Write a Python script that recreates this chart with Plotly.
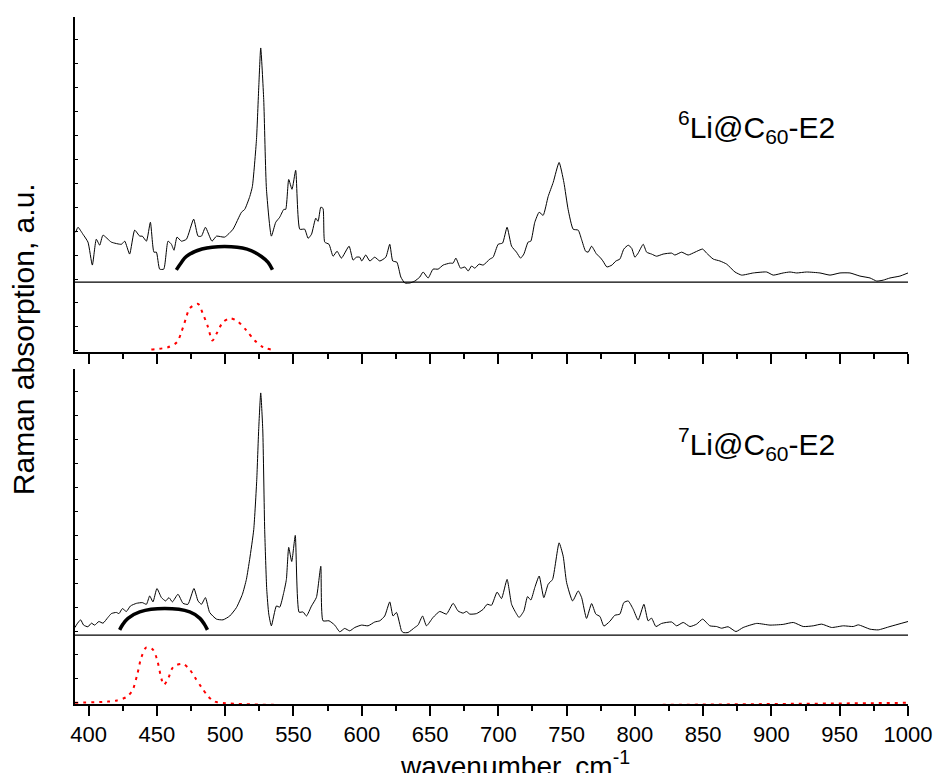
import plotly.graph_objects as go

# ---------------- data (wavenumber cm^-1, intensity a.u.) ----------------
# 6Li@C60-E2 spectrum, intensity above its baseline
wn_top = [390.5, 392.2, 395.8, 399.5, 402.7, 405.6, 408.1, 410.5, 416.6, 424.0, 426.4, 430.0,
          433.7, 437.4, 439.3, 442.3, 445.2, 447.8, 449.6, 452.0, 455.0, 458.1, 460.6, 462.5,
          464.7, 467.9, 471.6, 476.9, 480.1, 482.6, 485.5, 490.3, 493.6, 499.6, 505.7, 511.9,
          514.3, 518.0, 519.9, 522.9, 524.6, 526.0, 528.2, 530.2, 533.8, 537.0, 539.9, 542.9,
          544.3, 546.5, 548.9, 551.6, 554.6, 558.2, 560.7, 563.2, 566.3, 568.0, 570.0, 571.6,
          572.9, 576.0, 579.0, 581.9, 585.1, 590.7, 593.6, 596.1, 598.5, 600.0, 602.9, 605.9,
          609.5, 613.2, 617.6, 620.5, 622.7, 625.7, 628.6, 631.5, 635.2, 638.8, 642.5, 644.9,
          648.6, 652.2, 655.9, 659.6, 664.5, 666.9, 668.9, 672.3, 675.5, 677.9, 680.4, 682.8,
          685.9, 688.9, 693.8, 696.2, 699.9, 703.1, 706.4, 709.7, 713.3, 716.3, 718.7, 721.8,
          723.8, 726.7, 729.9, 732.8, 736.5, 740.2, 744.5, 748.0, 751.1, 754.8, 758.5, 760.9,
          763.9, 765.8, 768.3, 771.9, 774.4, 776.6, 779.5, 783.2, 786.1, 789.0, 791.9, 795.1,
          797.6, 800.0, 802.4, 806.1, 808.6, 812.2, 815.9, 820.7, 826.9, 829.3, 834.2, 839.0,
          844.0, 849.6, 852.5, 857.4, 862.3, 867.2, 873.3, 878.2, 886.7, 896.5, 901.3, 908.6,
          913.6, 918.5, 925.8, 935.5, 942.9, 950.2, 957.5, 964.8, 972.2, 977.1, 981.9, 986.8,
          994.1, 1000.0]
int_top = [2.08, 2.29, 2.00, 1.67, 0.71, 1.79, 1.54, 1.96, 1.67, 1.58, 1.71, 1.17,
           2.17, 1.92, 1.92, 1.71, 2.50, 1.25, 1.25, 0.54, 0.54, 1.71, 1.58, 1.33,
           1.88, 1.71, 1.79, 2.63, 1.92, 1.92, 2.29, 1.71, 1.92, 1.88, 2.21, 2.92,
           3.04, 3.58, 4.00, 5.96, 8.20, 9.79, 7.63, 3.88, 1.92, 2.50, 2.71, 3.04,
           3.04, 4.29, 3.88, 4.67, 2.21, 2.21, 1.83, 2.00, 2.67, 2.54, 3.13, 3.08,
           1.67, 1.58, 1.08, 1.29, 1.00, 1.50, 0.92, 1.04, 1.04, 0.88, 1.13, 0.88,
           1.04, 0.88, 1.04, 1.58, 0.88, 0.83, 0.21, -0.04, -0.04, 0.04, 0.21, 0.42,
           0.17, 0.54, 0.54, 0.71, 0.79, 0.79, 1.00, 0.58, 0.63, 0.46, 0.67, 0.58,
           0.75, 0.71, 0.96, 1.04, 1.58, 1.63, 2.29, 1.50, 1.25, 1.00, 1.17, 1.67,
           1.71, 2.50, 2.92, 2.79, 3.58, 4.17, 5.00, 4.17, 3.04, 2.21, 2.17, 1.79,
           1.29, 1.25, 1.50, 1.17, 1.04, 0.88, 0.63, 0.71, 0.88, 0.96, 1.38, 1.54,
           1.42, 1.04, 1.21, 1.58, 1.25, 1.17, 1.08, 1.17, 1.21, 1.13, 1.25, 1.13,
           1.25, 1.38, 1.21, 0.96, 0.88, 0.75, 0.42, 0.29, 0.38, 0.42, 0.29, 0.38,
           0.42, 0.38, 0.42, 0.38, 0.29, 0.38, 0.38, 0.25, 0.17, 0.04, 0.08, 0.17,
           0.25, 0.38]

# 7Li@C60-E2 spectrum, intensity above its baseline
wn_bot = [390.0, 391.4, 394.1, 396.3, 399.5, 402.0, 404.4, 407.5, 410.5, 414.1, 416.6, 420.3,
          422.2, 424.7, 427.6, 430.6, 435.0, 439.3, 442.3, 444.7, 447.1, 450.0, 453.3, 456.4,
          458.8, 461.3, 465.4, 469.1, 472.7, 477.1, 480.1, 482.6, 485.5, 488.6, 493.6, 498.4,
          503.3, 508.2, 512.6, 515.5, 517.9, 520.9, 523.1, 524.5, 526.0, 527.5, 528.9, 530.4,
          531.9, 533.8, 537.5, 539.9, 542.9, 544.8, 546.5, 548.7, 551.3, 554.1, 557.0, 559.5,
          563.2, 566.8, 570.0, 571.6, 576.0, 580.2, 583.9, 587.5, 591.2, 594.9, 599.8, 604.6,
          609.5, 613.2, 616.8, 620.5, 622.9, 625.4, 629.1, 630.3, 633.9, 638.8, 641.2, 644.5,
          647.4, 652.2, 657.1, 662.0, 666.9, 670.5, 674.2, 676.7, 679.1, 684.0, 688.9, 691.8,
          695.0, 699.1, 702.3, 706.4, 709.7, 712.1, 715.2, 718.7, 721.4, 723.8, 726.7, 729.9,
          733.3, 736.5, 739.7, 744.5, 747.5, 750.0, 754.4, 758.5, 761.0, 764.6, 768.3, 771.4,
          774.4, 777.3, 781.7, 785.3, 789.0, 791.9, 795.1, 798.8, 802.4, 806.6, 809.7, 812.2,
          815.4, 819.6, 826.9, 830.6, 835.4, 840.3, 845.2, 849.6, 854.9, 859.8, 863.5, 868.3,
          874.0, 879.3, 889.2, 898.9, 908.6, 916.0, 923.3, 930.6, 936.8, 944.1, 952.6, 959.9,
          963.6, 972.2, 978.2, 986.8, 1000.0]
int_bot = [0.32, 0.46, 0.64, 0.42, 0.35, 0.50, 0.42, 0.57, 0.50, 0.74, 0.90, 0.95,
           0.90, 1.11, 0.99, 1.22, 1.33, 1.36, 1.29, 1.64, 1.39, 1.95, 1.57, 1.43,
           1.57, 1.39, 1.71, 1.33, 1.29, 1.95, 1.43, 1.29, 1.57, 0.95, 0.67, 0.64,
           0.80, 1.15, 1.71, 2.33, 3.17, 4.42, 6.50, 8.58, 10.13, 8.58, 4.42, 1.92,
           0.88, 0.39, 1.22, 1.17, 1.79, 2.33, 3.67, 3.08, 4.17, 0.96, 0.97, 0.80,
           1.22, 1.58, 2.88, 0.60, 0.60, 0.42, 0.14, 0.28, 0.18, 0.32, 0.42, 0.39,
           0.55, 0.60, 0.80, 1.39, 0.80, 0.95, 0.18, 0.11, 0.11, 0.32, 0.42, 0.80,
           0.39, 0.74, 0.99, 0.88, 1.33, 1.01, 0.92, 0.99, 0.88, 0.90, 1.08, 1.29,
           1.25, 1.80, 1.53, 2.33, 1.29, 1.01, 0.74, 1.01, 1.61, 1.47, 1.99, 2.47,
           1.57, 2.13, 2.33, 3.86, 3.30, 2.20, 1.43, 1.85, 1.57, 0.70, 1.32, 0.88,
           0.78, 0.38, 0.58, 0.83, 0.88, 1.36, 1.43, 1.08, 0.63, 1.29, 0.60, 0.71,
           0.36, 0.49, 0.55, 0.39, 0.53, 0.36, 0.46, 0.67, 0.39, 0.36, 0.29, 0.35,
           0.15, 0.32, 0.49, 0.42, 0.45, 0.53, 0.36, 0.39, 0.46, 0.32, 0.39, 0.36,
           0.43, 0.25, 0.22, 0.36, 0.57]

# fitted (red dotted) components, intensity above the panel floor
fit_top_wn = [445.9, 458.1, 464.7, 467.9, 471.1, 474.0, 480.1, 483.7, 487.4, 490.6, 493.6,
              498.4, 503.8, 509.4, 515.5, 521.6, 527.7, 533.8]
fit_top_val = [0.05, 0.15, 0.36, 0.78, 1.33, 1.78, 1.96, 1.54, 0.99, 0.43, 0.71,
               1.20, 1.36, 1.22, 0.85, 0.43, 0.15, 0.05]
fit_bot_wn = [390.0, 414.1, 420.7, 427.6, 432.0, 435.4, 438.6, 442.3, 447.1, 450.0, 453.3,
              455.0, 458.1, 461.3, 464.3, 469.1, 474.0, 477.7, 482.6, 487.0, 489.9, 493.6, 1000.0]
fit_bot_val = [0.0, 0.05, 0.10, 0.24, 0.51, 1.14, 1.90, 2.32, 2.22, 1.83, 1.00,
               0.75, 1.00, 1.45, 1.58, 1.63, 1.39, 1.07, 0.65, 0.30, 0.14, 0.03, 0.0]

# arcs marking the broad band (above baseline)
arc_top_wn = [464.2, 467.9, 471.6, 483.0, 499.6, 516.0, 526.5, 531.4, 534.6]
arc_top_val = [0.51, 0.82, 1.07, 1.38, 1.49, 1.38, 1.07, 0.82, 0.51]
arc_bot_wn = [422.7, 425.0, 428.8, 437.4, 455.7, 474.0, 481.5, 484.8, 487.0]
arc_bot_val = [0.22, 0.45, 0.70, 0.97, 1.11, 0.97, 0.70, 0.45, 0.22]

x_range = [390, 1000]
x_ticks = [400, 450, 500, 550, 600, 650, 700, 750, 800, 850, 900, 950, 1000]
label_top = "<sup>6</sup>Li@C<sub>60</sub>-E2"
label_bot = "<sup>7</sup>Li@C<sub>60</sub>-E2"

# ---------------- layout constants ----------------
BASE_TOP = 2.875
BASE_BOT = 2.83
Y_RANGE = [-0.05, 13.96]
FONT = "Arial, Liberation Sans, sans-serif"
L, R = 75, 28
PW = 936 - L - R

fig = go.Figure()

def add_panel(xa, ya, wn, inten, base, fwn, fval, awn, aval, dotted_color):
    fig.add_trace(go.Scatter(x=list(x_range), y=[base, base], mode="lines",
                             line=dict(color="black", width=1.3),
                             xaxis=xa, yaxis=ya, hoverinfo="skip"))
    fig.add_trace(go.Scatter(x=wn, y=[base + v for v in inten], mode="lines",
                             line=dict(color="black", width=1, shape="spline", smoothing=0.5),
                             xaxis=xa, yaxis=ya))
    fig.add_trace(go.Scatter(x=awn, y=[base + v for v in aval], mode="lines",
                             line=dict(color="black", width=3.5, shape="spline", smoothing=1.0),
                             xaxis=xa, yaxis=ya))
    fig.add_trace(go.Scatter(x=fwn, y=fval, mode="lines",
                             line=dict(color=dotted_color, width=2, dash="3px,5px",
                                       shape="spline", smoothing=0.8),
                             xaxis=xa, yaxis=ya))

add_panel("x2", "y2", wn_top, int_top, BASE_TOP, fit_top_wn, fit_top_val,
          arc_top_wn, arc_top_val, "red")
add_panel("x", "y", wn_bot, int_bot, BASE_BOT, fit_bot_wn, fit_bot_val,
          arc_bot_wn, arc_bot_val, "red")

xcommon = dict(range=x_range, showline=True, linecolor="black", linewidth=2,
               ticks="outside", ticklen=10, tickwidth=2, tickcolor="black",
               tickvals=x_ticks, showgrid=False, zeroline=False, automargin=False,
               ticklabeloverflow="allow",
               minor=dict(ticks="outside", ticklen=5, tickwidth=2, tickcolor="black",
                          tick0=425, dtick=50, showgrid=False),
               layer="below traces")
ycommon = dict(range=Y_RANGE, showline=True, linecolor="black", linewidth=2,
               ticks="inside", ticklen=3, tickwidth=1, tickcolor="black", automargin=False,
               tick0=0, dtick=1, showticklabels=False, showgrid=False, zeroline=False)

fig.update_layout(
    width=936, height=773,
    margin=dict(l=L, r=R, t=17, b=69, autoexpand=False),
    paper_bgcolor="white", plot_bgcolor="white",
    showlegend=False,
    font=dict(family=FONT, color="black"),
    xaxis=dict(**xcommon, anchor="y", domain=[0, 1],
               tickfont=dict(size=22, family=FONT, color="black")),
    xaxis2=dict(**xcommon, anchor="y2", domain=[0, 1], matches="x", showticklabels=False),
    yaxis=dict(**ycommon, domain=[0, 0.4876], anchor="x"),
    yaxis2=dict(**ycommon, domain=[0.5124, 1], anchor="x2"),
    annotations=[
        dict(text=label_top, xref="paper", yref="paper", x=(676 - L) / PW, y=0.84,
             xanchor="left", yanchor="middle", showarrow=False,
             font=dict(size=30, family=FONT, color="black")),
        dict(text=label_bot, xref="paper", yref="paper", x=(676 - L) / PW, y=0.378,
             xanchor="left", yanchor="middle", showarrow=False,
             font=dict(size=30, family=FONT, color="black")),
        dict(text="wavenumber, cm<sup>-1</sup>", xref="paper", yref="paper",
             x=(398 - L) / PW, y=-0.058, xanchor="left", yanchor="top", showarrow=False,
             font=dict(size=28, family=FONT, color="black")),
        dict(text="Raman absorption, a.u.", xref="paper", yref="paper",
             x=(23 - L) / PW, y=0.531, xanchor="center", yanchor="middle",
             textangle=-90, showarrow=False,
             font=dict(size=30, family=FONT, color="black")),
    ],
)

fig.write_html("out.html")
